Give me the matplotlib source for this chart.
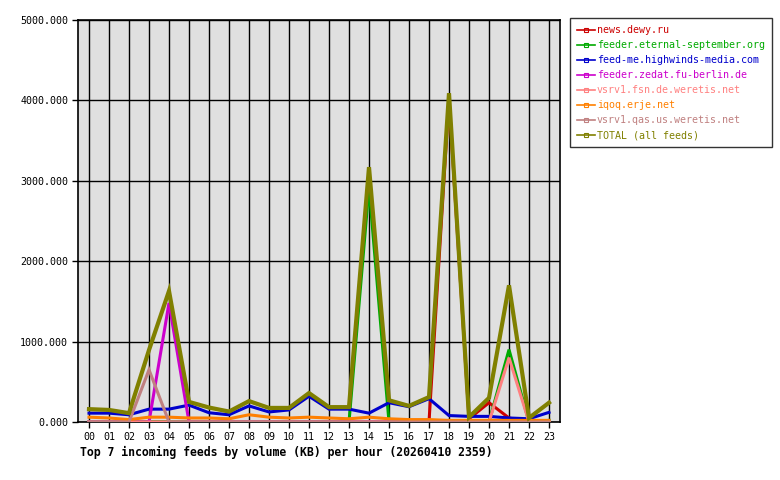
import matplotlib
matplotlib.use("Agg")
import matplotlib.pyplot as plt
from matplotlib.lines import Line2D

hours = ["00","01","02","03","04","05","06","07","08","09","10","11",
         "12","13","14","15","16","17","18","19","20","21","22","23"]

news_dewy = [0,0,0,0,0,0,0,0,0,0,0,0,0,0,0,0,0,0,4020,40,240,50,0,0]
eternal_sept = [0,0,0,0,0,0,0,0,0,0,0,0,0,0,2920,0,0,0,0,0,0,900,0,20]
highwinds = [110,110,90,160,160,210,115,90,200,125,150,320,160,160,110,240,190,290,80,70,70,50,40,120]
zedat = [0,0,0,0,1480,0,0,0,0,0,0,0,0,0,0,0,0,0,0,0,0,0,0,0]
fsn_weretis = [0,0,0,0,0,0,0,0,0,0,0,0,0,0,0,0,0,0,0,0,0,800,0,0]
iqoq = [60,50,30,60,60,50,50,40,90,60,50,60,50,40,60,40,30,30,20,20,20,20,20,20]
qas_weretis = [0,0,0,650,0,0,0,0,0,0,0,0,0,0,0,0,0,0,0,0,0,0,0,0]
total = [160,150,110,895,1630,250,180,130,260,175,175,360,185,185,3170,270,200,310,4090,60,300,1700,50,240]

names = ["news.dewy.ru", "feeder.eternal-september.org", "feed-me.highwinds-media.com",
         "feeder.zedat.fu-berlin.de", "vsrv1.fsn.de.weretis.net", "iqoq.erje.net",
         "vsrv1.qas.us.weretis.net", "TOTAL (all feeds)"]
series = [news_dewy, eternal_sept, highwinds, zedat, fsn_weretis, iqoq, qas_weretis, total]
colors = ["#CC0000", "#00AA00", "#0000CC", "#CC00CC", "#FF8080", "#FF8000", "#C08080", "#808000"]
yticks = [0, 1000, 2000, 3000, 4000, 5000]

mono = "DejaVu Sans Mono"
fig = plt.figure(figsize=(7.8, 4.8), dpi=100)
ax = fig.add_axes([78/780, 58/480, 482/780, 402/480])
ax.set_facecolor("#E0E0E0")
x = list(range(len(hours)))
for i, (s, c) in enumerate(zip(series, colors)):
    lw = 3.0 if i == len(series) - 1 else 2.2
    ax.plot(x, s, color=c, lw=lw, solid_joinstyle="miter", zorder=3 + i)

ax.set_xlim(-0.55, 23.55)
ax.set_ylim(0, 5000)
ax.set_xticks(x)
ax.set_xticklabels(hours, fontfamily=mono, fontsize=7.2)
ax.set_yticks(yticks)
ax.set_yticklabels(["%d.000" % v for v in yticks], fontfamily=mono, fontsize=7.2)
ax.grid(True, color="black", lw=1.0, zorder=1)
ax.set_axisbelow(True)
for sp in ax.spines.values():
    sp.set_linewidth(1.2)
ax.tick_params(direction="out", length=4, width=1, pad=3, colors="black")

fig.text(80/780, 1 - 452/480, "Top 7 incoming feeds by volume (KB) per hour (20260410 2359)",
         fontfamily=mono, fontweight="bold", fontsize=8.3, va="center", ha="left")

handles = [Line2D([0], [0], color=c, lw=1.2, marker="s", markersize=2.5,
                  markerfacecolor="none", markeredgewidth=0.8) for c in colors]
leg = fig.legend(handles, names, loc="upper left", bbox_to_anchor=(570/780, 1 - 18/480),
                 prop={"family": mono, "size": 7.2}, frameon=True, fancybox=False,
                 edgecolor="black", handlelength=1.8, handletextpad=0.2,
                 labelspacing=0.5, borderpad=0.7, borderaxespad=0)
leg.get_frame().set_linewidth(1.0)
for t, c in zip(leg.get_texts(), colors):
    t.set_color(c)

fig.savefig("out.png", dpi=100)
